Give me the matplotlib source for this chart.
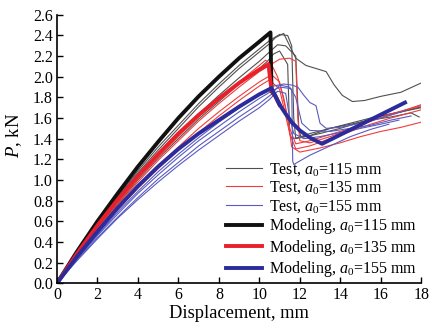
import matplotlib
matplotlib.use("Agg")
import matplotlib.pyplot as plt

plt.rcParams['font.family'] = 'Liberation Serif'
plt.rcParams['mathtext.fontset'] = 'custom'
plt.rcParams['mathtext.rm'] = 'Liberation Serif'
plt.rcParams['mathtext.it'] = 'Liberation Serif:italic'

rise_x = [0, 1, 2, 3, 4, 5, 6, 7, 8, 9, 10]

# test curves, a0=115 mm
b1_x = rise_x + [10.5, 10.8, 11.2, 11.5, 11.8, 12.3, 12.8, 13.3, 13.7, 14.1, 14.6, 15.2, 16, 17, 18]
b1_y = [0, 0.29, 0.57, 0.83, 1.07, 1.29, 1.50, 1.71, 1.90, 2.08, 2.24,
        2.32, 2.38, 2.42, 2.30, 2.18, 2.11, 2.08, 2.05, 1.92, 1.82, 1.76, 1.77, 1.81, 1.85, 1.94]
b2_x = rise_x + [10.5, 11.0, 11.4, 11.6, 11.7, 11.8, 12.3, 13, 14, 15, 16, 17, 18]
b2_y = [0, 0.30, 0.58, 0.84, 1.09, 1.32, 1.53, 1.74, 1.93, 2.11, 2.27,
        2.35, 2.41, 2.40, 2.30, 1.60, 1.40, 1.42, 1.45, 1.50, 1.56, 1.62, 1.66, 1.71]
b3_x = rise_x + [10.5, 10.9, 11.3, 11.8, 11.95, 12.05, 12.5, 13.5, 14.5, 15.5, 16.5, 17.5, 17.9]
b3_y = [0, 0.28, 0.55, 0.80, 1.03, 1.25, 1.45, 1.64, 1.82, 1.99, 2.15,
        2.24, 2.31, 2.30, 2.20, 1.50, 1.42, 1.45, 1.50, 1.54, 1.58, 1.61, 1.65, 1.61]
b4_x = rise_x + [10.4, 10.7, 11.0, 11.4, 11.5, 11.6, 12.5, 13.5, 14.5, 15.5, 16.5, 18]
b4_y = [0, 0.27, 0.53, 0.77, 1.00, 1.21, 1.40, 1.59, 1.76, 1.93, 2.08,
        2.15, 2.22, 2.25, 2.12, 1.45, 1.40, 1.43, 1.50, 1.55, 1.60, 1.64, 1.70]

# test curves, a0=135 mm
r1_x = rise_x + [10.3, 10.6, 10.9, 11.2, 11.5, 11.8, 12.5, 13.5, 14.5, 15.5, 16.5, 18]
r1_y = [0, 0.28, 0.54, 0.78, 1.01, 1.22, 1.42, 1.61, 1.78, 1.95, 2.11,
        2.16, 2.12, 2.00, 1.80, 1.50, 1.35, 1.38, 1.44, 1.50, 1.57, 1.63, 1.73]
r2_x = rise_x + [10.5, 11.0, 11.5, 11.8, 11.9, 12.0, 12.5, 13.5, 14.5, 15.5, 16.5, 18]
r2_y = [0, 0.27, 0.52, 0.76, 0.98, 1.19, 1.38, 1.57, 1.74, 1.90, 2.05,
        2.11, 2.17, 2.18, 2.15, 1.60, 1.38, 1.36, 1.42, 1.49, 1.57, 1.64, 1.72]
r3_x = rise_x + [10.6, 11.0, 11.4, 11.6, 12, 13, 14, 15, 16, 17, 18]
r3_y = [0, 0.26, 0.50, 0.73, 0.94, 1.14, 1.32, 1.50, 1.66, 1.81, 1.95,
        2.02, 1.95, 1.60, 1.32, 1.27, 1.31, 1.36, 1.42, 1.47, 1.51, 1.56]
r4_x = rise_x + [10.5, 11.0, 11.5, 11.8, 12.5, 13.5, 14.5, 15.5, 16.5, 18]
r4_y = [0, 0.25, 0.49, 0.71, 0.92, 1.11, 1.29, 1.46, 1.62, 1.77, 1.91,
        1.97, 1.88, 1.45, 1.30, 1.33, 1.40, 1.47, 1.54, 1.60, 1.68]

# test curves, a0=155 mm
u1_x = rise_x + [10.7, 11.2, 11.6, 11.9, 12.2, 12.5, 12.8, 13.0, 13.3, 14, 15, 16, 17.2]
u1_y = [0, 0.24, 0.47, 0.69, 0.89, 1.08, 1.25, 1.41, 1.56, 1.70, 1.83,
        1.91, 1.93, 1.92, 1.90, 1.82, 1.75, 1.72, 1.55, 1.50, 1.51, 1.55, 1.60, 1.67]
u2_x = rise_x + [10.6, 11.0, 11.4, 11.6, 11.65, 11.7, 12.5, 13.5, 14.5, 15.5, 16.4]
u2_y = [0, 0.24, 0.46, 0.67, 0.87, 1.05, 1.22, 1.38, 1.52, 1.66, 1.79,
        1.86, 1.90, 1.89, 1.88, 1.18, 1.15, 1.24, 1.33, 1.42, 1.49, 1.54]
u3_x = rise_x + [10.6, 11.0, 11.5, 11.8, 12.1, 12.5, 13.5, 14.5, 15.5, 16.5, 17.5]
u3_y = [0, 0.23, 0.44, 0.64, 0.83, 1.01, 1.17, 1.33, 1.47, 1.61, 1.74,
        1.83, 1.92, 1.90, 1.80, 1.55, 1.48, 1.47, 1.50, 1.53, 1.58, 1.62]
u4_x = rise_x + [10.5, 10.9, 11.3, 11.5, 11.7, 12.2, 13, 14, 15, 16, 16.9]
u4_y = [0, 0.22, 0.43, 0.63, 0.81, 0.98, 1.14, 1.29, 1.43, 1.57, 1.70,
        1.78, 1.86, 1.84, 1.60, 1.45, 1.40, 1.42, 1.46, 1.50, 1.54, 1.58]

# modeling curves (shared post-peak branch)
post_x = [10.8, 11.0, 11.3, 11.6, 12.0, 12.5, 13.1, 17.2]
post_y = [1.81, 1.73, 1.64, 1.56, 1.48, 1.41, 1.35, 1.75]
mb_x = rise_x + [10.55, 10.6]
mb_y = [0, 0.31, 0.60, 0.87, 1.13, 1.37, 1.60, 1.81, 2.00, 2.18, 2.34, 2.43, 1.86]
mr_x = rise_x + [10.45, 10.6]
mr_y = [0, 0.29, 0.56, 0.81, 1.04, 1.25, 1.45, 1.63, 1.79, 1.94, 2.07, 2.12, 1.87]
mu_x = rise_x + [10.6]
mu_y = [0, 0.26, 0.50, 0.73, 0.94, 1.13, 1.30, 1.45, 1.58, 1.71, 1.83, 1.89]

fig = plt.figure(figsize=(4.32, 3.30), dpi=100)
ax = fig.add_axes([0.132, 0.142, 0.843, 0.813])

tk = dict(lw=0.8)
ax.plot(b1_x, b1_y, color='#505050', label=r'Test, $a_0$=115 mm', **tk)
for xs, ys in [(b2_x, b2_y), (b3_x, b3_y), (b4_x, b4_y)]:
    ax.plot(xs, ys, color='#505050', **tk)
ax.plot(r1_x, r1_y, color='#f03c3c', label=r'Test, $a_0$=135 mm', **tk)
for xs, ys in [(r2_x, r2_y), (r3_x, r3_y), (r4_x, r4_y)]:
    ax.plot(xs, ys, color='#f03c3c', **tk)
ax.plot(u1_x, u1_y, color='#5a5ac0', label=r'Test, $a_0$=155 mm', **tk)
for xs, ys in [(u2_x, u2_y), (u3_x, u3_y), (u4_x, u4_y)]:
    ax.plot(xs, ys, color='#5a5ac0', **tk)

mk = dict(lw=2.8, solid_joinstyle='round')
ax.plot(mb_x + post_x[:2], mb_y + post_y[:2], color='#111111', label=r'Modeling, $a_0$=115 mm', **mk)
ax.plot(mr_x + post_x[:2], mr_y + post_y[:2], color='#e8202a', label=r'Modeling, $a_0$=135 mm', **mk)
ax.plot(mu_x + post_x, mu_y + post_y, color='#2b2b9c', label=r'Modeling, $a_0$=155 mm', **mk)

ax.set_xlim(0, 18)
ax.set_ylim(0, 2.6)
ax.set_xticks(range(0, 19, 2))
ax.set_yticks([i / 10 for i in range(0, 27, 2)])
ax.set_yticklabels(['%.1f' % (i / 10) for i in range(0, 27, 2)])
ax.tick_params(direction='in', labelsize=11.5, length=4, width=1, pad=3)
for s in ['top', 'right']:
    ax.spines[s].set_visible(False)
for s in ['left', 'bottom']:
    ax.spines[s].set_linewidth(1.2)
ax.set_xlabel('Displacement, mm', fontsize=13.3, labelpad=1)
ax.set_ylabel(r'$P$, kN', fontsize=13.5, labelpad=1)
ax.yaxis.set_label_coords(-0.092, 0.55)

ax.legend(loc='lower right', frameon=False, fontsize=11.5, handlelength=2.25,
          handletextpad=0.45, labelspacing=0.1, borderaxespad=0.0,
          bbox_to_anchor=(1.005, -0.01))

fig.savefig('out.png', dpi=100)
